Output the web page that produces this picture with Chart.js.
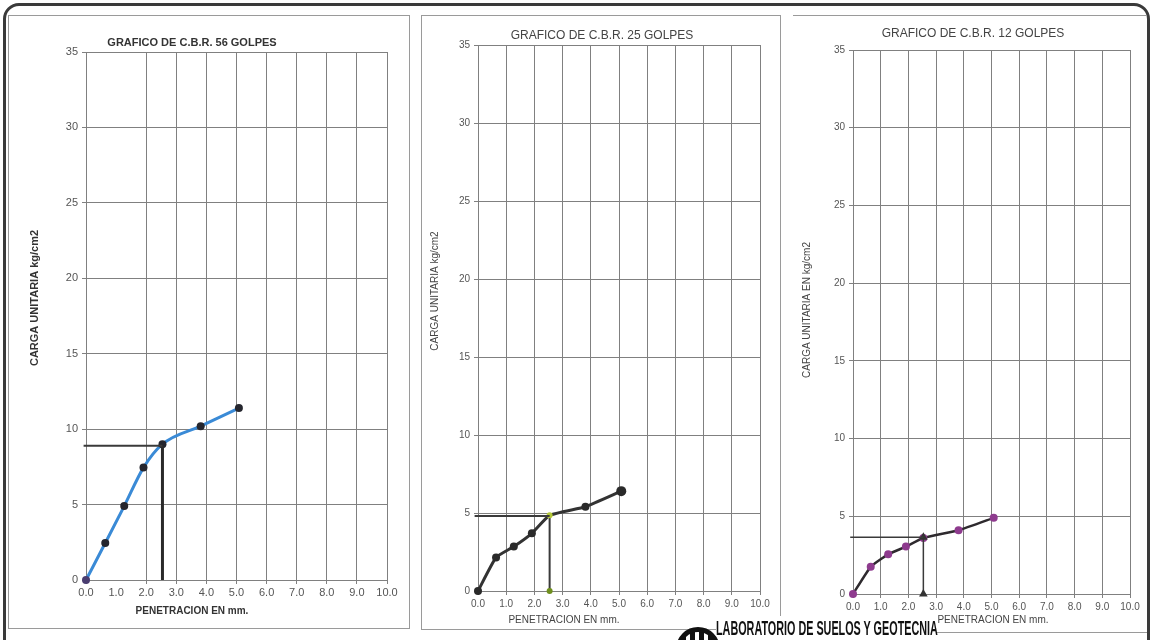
<!DOCTYPE html>
<html>
<head>
<meta charset="utf-8">
<script src="https://cdn.jsdelivr.net/npm/chart.js@4.4.1/dist/chart.umd.min.js"></script>
<style>
  body { margin: 0; background: #fff; font-family: "Liberation Sans", Arial, sans-serif; }
  #sheet { position: relative; width: 1153px; height: 640px; overflow: hidden; background: #fff; }
  .frame { position: absolute; left: 3px; top: 3px; width: 1141px; height: 700px; border: 3px solid #3a3a3a; border-radius: 16px; }
  .panel { position: absolute; border: 1px solid #9a9a9a; }
  canvas { position: absolute; }
  .labbox { position: absolute; left: 716px; top: 616px; width: 220px; height: 30px; background: #fff; }
  .lab { position: absolute; left: 0; top: 1px; font: bold 20px "Liberation Sans", Arial, sans-serif; color: #111; transform: scale(0.54, 1.05); transform-origin: left top; white-space: nowrap; line-height: 20px; }
  .logo { position: absolute; left: 676px; top: 627px; width: 34px; height: 34px; border-radius: 50%; border: 5px solid #111; background: repeating-linear-gradient(90deg, #111 0 5px, #fff 5px 9px); }
</style>
</head>
<body>
<div id="sheet">
  <div class="frame"></div>
  <div class="panel" style="left:8px;top:15px;width:400px;height:612px;"></div>
  <div class="panel" style="left:421px;top:15px;width:358px;height:613px;"></div>
  <div class="panel" style="left:793px;top:15px;width:354px;height:616px;border-left:none;border-right:none;"></div>
  <canvas id="c56" width="401" height="612" style="left:8px;top:16px;"></canvas>
  <canvas id="c25" width="359" height="612" style="left:421px;top:16px;"></canvas>
  <canvas id="c12" width="355" height="616" style="left:793px;top:16px;"></canvas>
  <div class="labbox"><div class="lab">LABORATORIO DE SUELOS Y GEOTECNIA</div></div>
  <div class="logo"></div>
</div>
<script>
// penetration readings (mm) and unit load (kg/cm2) for each compaction energy
const penetration = [0, 0.64, 1.27, 1.91, 2.54, 3.81, 5.08];
const load56 = [0, 2.45, 4.9, 7.45, 9.0, 10.2, 11.4];
const load25 = [0, 2.15, 2.85, 3.7, 4.85, 5.4, 6.4];
const load12 = [0, 1.75, 2.55, 3.05, 3.6, 4.1, 4.9];

// load read at 0.1" (2.54 mm) for each curve
const readAt254 = { g56: 8.9, g25: 4.8, g12: 3.65 };
const readX = 2.54;

const xMin = 0, xMax = 10, xStep = 1;
const yMin = 0, yMax = 35, yStep = 5;

const toPoints = (ys) => penetration.map((x, i) => ({ x, y: ys[i] }));

// free text drawn on the canvas (titles, axis captions)
const captions = {
  id: 'captions',
  afterDraw(chart, args, opts) {
    const ctx = chart.ctx;
    (opts.items || []).forEach(it => {
      ctx.save();
      ctx.font = it.font;
      ctx.fillStyle = it.color || '#333';
      ctx.textAlign = 'center';
      ctx.textBaseline = 'middle';
      ctx.translate(it.x, it.y);
      if (it.rotate) ctx.rotate(-Math.PI / 2);
      ctx.fillText(it.text, 0, 0);
      ctx.restore();
    });
  }
};

function makeChart(id, cfg) {
  const gridColor = (c) => (cfg.skipGrid && cfg.skipGrid.includes(c.tick.value)) ? 'rgba(0,0,0,0)' : '#808080';
  return new Chart(document.getElementById(id), {
    type: 'line',
    data: { datasets: cfg.datasets },
    options: {
      responsive: false,
      animation: false,
      layout: { padding: cfg.padding },
      plugins: {
        legend: { display: false },
        tooltip: { enabled: false },
        captions: { items: cfg.captions }
      },
      scales: {
        x: {
          type: 'linear',
          min: xMin, max: xMax,
          afterFit: (s) => { s.height = cfg.xHeight; },
          ticks: {
            stepSize: xStep,
            padding: cfg.xTickPad,
            color: '#555',
            font: { family: 'Liberation Sans', size: cfg.tickSize },
            callback: (v) => v.toFixed(1)
          },
          grid: { color: gridColor, tickLength: 4, lineWidth: 1 },
          border: { color: '#808080' }
        },
        y: {
          type: 'linear',
          min: yMin, max: yMax,
          afterFit: (s) => { s.width = cfg.yWidth; },
          ticks: {
            stepSize: yStep,
            padding: 4,
            color: '#555',
            font: { family: 'Liberation Sans', size: cfg.tickSize }
          },
          grid: { color: '#808080', tickLength: 4, lineWidth: 1 },
          border: { color: '#808080' }
        }
      }
    },
    plugins: [captions]
  });
}

// 56 golpes
makeChart('c56', {
  padding: { left: 0, top: 36, right: 22, bottom: 0 },
  yWidth: 78, xHeight: 48, xTickPad: 2, tickSize: 11,
  skipGrid: [1],
  captions: [
    { text: 'GRAFICO DE C.B.R. 56 GOLPES', x: 184, y: 27, font: 'bold 11px "Liberation Sans"', color: '#333' },
    { text: 'CARGA UNITARIA kg/cm2', x: 27, y: 282, rotate: true, font: 'bold 11px "Liberation Sans"', color: '#333' },
    { text: 'PENETRACION EN mm.', x: 184, y: 595, font: 'bold 10px "Liberation Sans"', color: '#333' }
  ],
  datasets: [
    {
      data: [{ x: -0.08, y: readAt254.g56 }, { x: readX, y: readAt254.g56 }],
      borderColor: '#3a3a3a', borderWidth: 2, pointRadius: 0, clip: false
    },
    {
      data: [{ x: readX, y: readAt254.g56 }, { x: readX, y: 0 }],
      borderColor: '#2a2a2a', borderWidth: 3, pointRadius: 0
    },
    {
      data: toPoints(load56),
      borderColor: '#3a8ad6', borderWidth: 3,
      cubicInterpolationMode: 'monotone',
      pointRadius: 4, pointBorderWidth: 0,
      pointBackgroundColor: ['#4a3d70', '#25262e', '#25262e', '#25262e', '#25262e', '#25262e', '#25262e'],
      clip: false
    }
  ]
});

// 25 golpes
makeChart('c25', {
  padding: { left: 0, top: 29, right: 20, bottom: 0 },
  yWidth: 57, xHeight: 37, xTickPad: 3, tickSize: 10,
  captions: [
    { text: 'GRAFICO DE C.B.R. 25 GOLPES', x: 181, y: 20, font: '12px "Liberation Sans"', color: '#444' },
    { text: 'CARGA UNITARIA kg/cm2', x: 14, y: 275, rotate: true, font: '10px "Liberation Sans"', color: '#444' },
    { text: 'PENETRACION EN mm.', x: 143, y: 604, font: '10px "Liberation Sans"', color: '#444' }
  ],
  datasets: [
    {
      data: [{ x: -0.12, y: readAt254.g25 }, { x: readX, y: readAt254.g25 }],
      borderColor: '#3a3a3a', borderWidth: 2, pointRadius: 0, clip: false
    },
    {
      data: toPoints(load25),
      borderColor: '#333', borderWidth: 3, tension: 0.15,
      pointRadius: [4, 4, 4, 4, 3, 4, 5], pointBorderWidth: 0,
      pointBackgroundColor: ['#2a2a2a', '#2a2a2a', '#2a2a2a', '#2a2a2a', '#b4c83a', '#2a2a2a', '#2a2a2a'],
      clip: false
    },
    {
      data: [{ x: readX, y: readAt254.g25 }, { x: readX, y: 0 }],
      borderColor: '#3a3a3a', borderWidth: 2,
      pointRadius: [0, 3], pointBorderWidth: 0, pointBackgroundColor: '#6f8f1e', clip: false
    }
  ]
});

// 12 golpes
makeChart('c12', {
  padding: { left: 0, top: 34, right: 18, bottom: 0 },
  yWidth: 60, xHeight: 38, xTickPad: 3, tickSize: 10,
  captions: [
    { text: 'GRAFICO DE C.B.R. 12 GOLPES', x: 180, y: 18, font: '12px "Liberation Sans"', color: '#444' },
    { text: 'CARGA UNITARIA EN kg/cm2', x: 14, y: 294, rotate: true, font: '10px "Liberation Sans"', color: '#444' },
    { text: 'PENETRACION EN mm.', x: 200, y: 604, font: '10px "Liberation Sans"', color: '#444' }
  ],
  datasets: [
    {
      data: [{ x: -0.1, y: readAt254.g12 }, { x: readX, y: readAt254.g12 }],
      borderColor: '#3a3a3a', borderWidth: 1.5, pointRadius: 0, clip: false
    },
    {
      data: [{ x: readX, y: readAt254.g12 }, { x: readX, y: 0 }],
      borderColor: '#3a3a3a', borderWidth: 1.5,
      pointStyle: 'triangle', pointRadius: 5, pointBorderWidth: 0,
      pointBackgroundColor: '#333', clip: false
    },
    {
      data: toPoints(load12),
      borderColor: '#2e2a2e', borderWidth: 2.5, tension: 0.15,
      pointRadius: 4, pointBorderWidth: 0, pointBackgroundColor: '#8e3b8e',
      clip: false
    }
  ]
});
</script>
</body>
</html>
